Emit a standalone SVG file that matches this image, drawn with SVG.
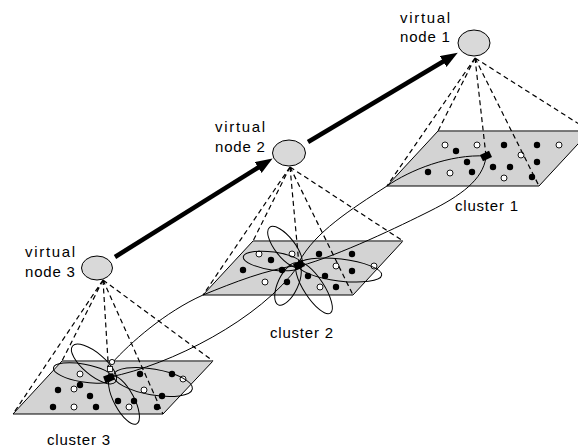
<svg xmlns="http://www.w3.org/2000/svg" width="578" height="448" viewBox="0 0 578 448">
<style>
.plane{fill:#d3d3d3;stroke:#000;stroke-width:1}
.topedge{stroke:#7a7a7a;stroke-width:1.6;fill:none}
.f{fill:#000}
.o{fill:#fff;stroke:#000;stroke-width:0.9}
.ell{fill:none;stroke:#000;stroke-width:1}
.vn{fill:#d9d9d9;stroke:#000;stroke-width:1}
.dash{stroke:#000;stroke-width:1.2;stroke-dasharray:5,3.5;fill:none}
.link{stroke:#000;stroke-width:1;fill:none}
.thick{stroke:#000;stroke-width:4.5;fill:none}
.head{fill:#000}
text{font-family:"Liberation Sans",Arial,sans-serif;font-size:15px;letter-spacing:0.8px;fill:#000}
</style>
<defs>
<marker id="ah" markerUnits="userSpaceOnUse" markerWidth="18" markerHeight="14" refX="1" refY="6.5" orient="auto">
<path d="M0,0 L17,6.5 L0,13 z" fill="#000"/>
</marker>
</defs>

<g id="cluster1">
<polygon class="plane" points="387,186 438,131 590,131 539,186"/>
<line class="topedge" x1="438" y1="131" x2="590" y2="131"/>
<circle class="o" cx="445" cy="145" r="3"/>
<circle class="o" cx="477" cy="145" r="3"/>
<circle class="o" cx="559" cy="145" r="3"/>
<circle class="o" cx="450" cy="173" r="3"/>
<circle class="o" cx="521" cy="155" r="3"/>
<circle class="o" cx="504" cy="178" r="3"/>
<circle class="f" cx="456" cy="151" r="3.2"/>
<circle class="f" cx="504" cy="145" r="3.2"/>
<circle class="f" cx="537" cy="145" r="3.2"/>
<circle class="f" cx="467" cy="162" r="3.2"/>
<circle class="f" cx="428" cy="172" r="3.2"/>
<circle class="f" cx="472" cy="172" r="3.2"/>
<circle class="f" cx="493" cy="167" r="3.2"/>
<circle class="f" cx="510" cy="167" r="3.2"/>
<circle class="f" cx="537" cy="162" r="3.2"/>
<circle class="f" cx="532" cy="177" r="3.2"/>
<text x="455" y="211">cluster 1</text>
</g>

<g id="cluster2">
<polygon class="plane" points="203,295 253,241 403,241 353,295"/>
<line class="topedge" x1="253" y1="241" x2="403" y2="241"/>
<circle class="o" cx="259" cy="254" r="3"/>
<circle class="o" cx="292" cy="254" r="3"/>
<circle class="o" cx="265" cy="282" r="3"/>
<circle class="o" cx="336" cy="266" r="3"/>
<circle class="o" cx="320" cy="287" r="3"/>
<circle class="o" cx="374" cy="266" r="3"/>
<circle class="f" cx="271" cy="260" r="3.2"/>
<circle class="f" cx="243" cy="270" r="3.2"/>
<circle class="f" cx="282" cy="270" r="3.2"/>
<circle class="f" cx="287" cy="282" r="3.2"/>
<circle class="f" cx="308" cy="276" r="3.2"/>
<circle class="f" cx="325" cy="276" r="3.2"/>
<circle class="f" cx="319" cy="254" r="3.2"/>
<circle class="f" cx="352" cy="254" r="3.2"/>
<circle class="f" cx="352" cy="271" r="3.2"/>
<circle class="f" cx="336" cy="287" r="3.2"/>
<ellipse class="ell" cx="285" cy="247" rx="25" ry="10" transform="rotate(52 285 247)"/>
<ellipse class="ell" cx="273" cy="261" rx="30" ry="9" transform="rotate(8 273 261)"/>
<ellipse class="ell" cx="340" cy="270" rx="42" ry="11" transform="rotate(7 340 270)"/>
<ellipse class="ell" cx="288" cy="284" rx="23" ry="10" transform="rotate(115 288 284)"/>
<ellipse class="ell" cx="314" cy="288" rx="30" ry="10" transform="rotate(57 314 288)"/>
<text x="270" y="338">cluster 2</text>
</g>

<g id="cluster3">
<polygon class="plane" points="13,414 62,361 213,361 163,414"/>
<line class="topedge" x1="62" y1="361" x2="213" y2="361"/>
<circle class="o" cx="80" cy="374" r="3"/>
<circle class="o" cx="74" cy="389" r="3"/>
<circle class="o" cx="74" cy="407" r="3"/>
<circle class="o" cx="144" cy="390" r="3"/>
<circle class="o" cx="183" cy="379" r="3"/>
<circle class="o" cx="129" cy="407" r="3"/>
<circle class="f" cx="80" cy="385" r="3.2"/>
<circle class="f" cx="58" cy="390" r="3.2"/>
<circle class="f" cx="90" cy="396" r="3.2"/>
<circle class="f" cx="53" cy="407" r="3.2"/>
<circle class="f" cx="96" cy="407" r="3.2"/>
<circle class="f" cx="140" cy="374" r="3.2"/>
<circle class="f" cx="172" cy="374" r="3.2"/>
<circle class="f" cx="162" cy="396" r="3.2"/>
<circle class="f" cx="118" cy="401" r="3.2"/>
<circle class="f" cx="134" cy="401" r="3.2"/>
<circle class="f" cx="157" cy="407" r="3.2"/>
<ellipse class="ell" cx="94" cy="364" rx="28" ry="11" transform="rotate(40 94 364)"/>
<ellipse class="ell" cx="83" cy="373" rx="30" ry="9" transform="rotate(10 83 373)"/>
<ellipse class="ell" cx="153" cy="382" rx="40" ry="13" transform="rotate(10 153 382)"/>
<ellipse class="ell" cx="124" cy="400" rx="27" ry="10" transform="rotate(62 124 400)"/>
<text x="47" y="445">cluster 3</text>
</g>

<g id="connectors">
<path class="link" d="M387,186 C410,170 450,154 486,156"/>
<path class="link" d="M387,186 C350,210 315,232 299,262"/>
<path class="link" d="M486,157 C483,180 460,196 430,211 S340,255 300,266"/>
<path class="link" d="M203,295 C235,282 265,270 299,265"/>
<path class="link" d="M112,363 C130,343 165,312 203,295"/>
<path class="link" d="M110,377 C170,365 260,320 299,265"/>
<path class="dash" d="M475,58 L387,186 M475,58 L438,131 M475,58 L486,156 M475,58 L539,186 M475,58 L590,131"/>
<path class="dash" d="M290,167 L203,295 M290,167 L253,241 M290,167 L299,265 M290,167 L353,295 M290,167 L403,241"/>
<path class="dash" d="M103,280 L13,414 M103,280 L62,361 M103,280 L109,377 M103,280 L163,414 M103,280 L213,361"/>
<path class="thick" d="M115,257 L259,167" marker-end="url(#ah)"/>
<path class="thick" d="M308,142 L444,61" marker-end="url(#ah)"/>
</g>

<g id="heads">
<rect class="head" x="-5" y="-3.5" width="10" height="7" transform="translate(486,156) rotate(-25)"/>
<rect class="head" x="-5" y="-3.5" width="10" height="7" transform="translate(299,265) rotate(-25)"/>
<rect class="head" x="-5" y="-3.5" width="10" height="7" transform="translate(109,378) rotate(-20)"/>
<rect x="107.5" y="366.5" width="5" height="5" fill="#fff" stroke="#000" stroke-width="0.8"/>
<circle class="o" cx="112" cy="362" r="2.6"/>
</g>

<g id="vnode1">
<ellipse class="vn" cx="474" cy="43" rx="16" ry="13"/>
<text x="400" y="23" textLength="51">virtual</text>
<text x="400" y="42">node 1</text>
</g>
<g id="vnode2">
<ellipse class="vn" cx="289" cy="153" rx="16.5" ry="13"/>
<text x="215" y="132" textLength="51">virtual</text>
<text x="215" y="152">node 2</text>
</g>
<g id="vnode3">
<ellipse class="vn" cx="97" cy="268" rx="15.5" ry="12"/>
<text x="25" y="257" textLength="51">virtual</text>
<text x="25" y="277">node 3</text>
</g>
</svg>
